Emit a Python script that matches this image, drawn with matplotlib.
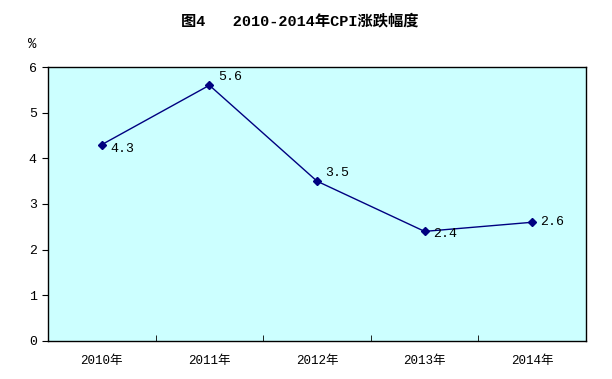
import matplotlib
matplotlib.use('Agg')
import matplotlib.pyplot as plt

plt.rcParams['font.family'] = ['Liberation Mono', 'Noto Sans CJK SC']

# data
years = ['2010年', '2011年', '2012年', '2013年', '2014年']
cpi = [4.3, 5.6, 3.5, 2.4, 2.6]
label_dy = [-3, 6, 6, -2, 0]

fig = plt.figure(figsize=(6.12, 3.79), dpi=100)
ax = fig.add_axes([0.0784, 0.1003, 0.8791, 0.7229])
ax.set_facecolor('#CCFFFF')

x = list(range(len(years)))
ax.plot(x, cpi, color='#000080', lw=1, marker='D', ms=4,
        mfc='#000080', mec='#000080')
for xi, v, dy in zip(x, cpi, label_dy):
    ax.annotate(f'{v:.1f}', (xi, v), xytext=(6, dy), textcoords='offset points',
                va='center', ha='left', fontsize=9.5)

ax.set_xlim(-0.5, len(years) - 0.5)
ax.set_ylim(0, 6)
ax.set_yticks(range(7))
ax.set_xticks(x)
ax.set_xticklabels(years, fontsize=9)
ax.set_xticks([i + 0.5 for i in range(-1, len(years))], minor=True)
ax.tick_params(axis='x', which='major', length=0, pad=10)
ax.tick_params(axis='x', which='minor', direction='in', length=4)
ax.tick_params(axis='y', direction='out', length=4, labelsize=9.5, pad=4)
for s in ax.spines.values():
    s.set_linewidth(1)
    s.set_color('black')

fig.text(0.49, 0.945, '图4   2010-2014年CPI涨跌幅度', ha='center', va='center',
         fontsize=11, fontweight='bold')
fig.text(0.053, 0.885, '%', ha='center', va='center', fontsize=10)

fig.savefig('out.png', dpi=100)
